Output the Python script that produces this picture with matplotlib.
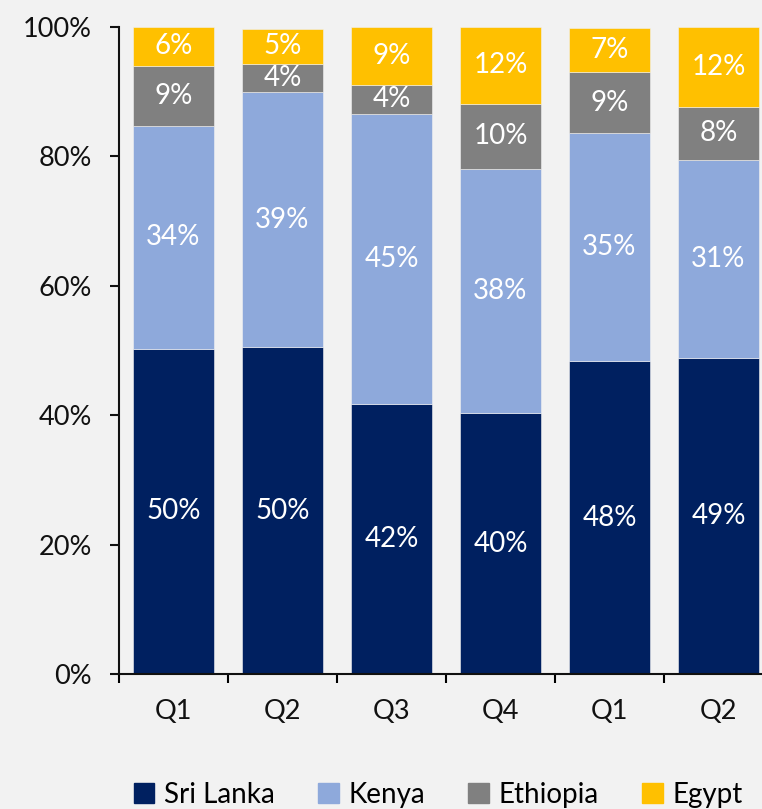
import matplotlib
matplotlib.use("Agg")
import matplotlib.pyplot as plt
import numpy as np
from matplotlib.patches import Rectangle

# Quarterly share by origin (%)
quarters = ["Q1", "Q2", "Q3", "Q4", "Q1", "Q2"]
sri_lanka = [50.3, 50.5, 41.7, 40.3, 48.3, 48.9]
kenya = [34.4, 39.4, 44.9, 37.8, 35.3, 30.6]
ethiopia = [9.3, 4.4, 4.4, 10.0, 9.4, 8.2]
egypt = [6.0, 5.4, 9.0, 11.9, 6.9, 12.3]

series = [
    ("Sri Lanka", sri_lanka, "#002060"),
    ("Kenya", kenya, "#8EA9DB"),
    ("Ethiopia", ethiopia, "#808080"),
    ("Egypt", egypt, "#FFC000"),
]
yticks = [0, 20, 40, 60, 80, 100]

plt.rcParams["font.family"] = ["Lato", "DejaVu Sans"]

fig = plt.figure(figsize=(7.62, 8.09), dpi=100)
fig.patch.set_facecolor("#F2F2F2")
ax = fig.add_axes([119 / 762, 1 - 674 / 809, 654 / 762, 647 / 809])
ax.set_facecolor("none")

x = np.arange(len(quarters))
bottom = np.zeros(len(quarters))
for name, vals, color in series:
    vals = np.array(vals)
    ax.bar(x, vals, 0.75, bottom=bottom, color=color, label=name,
           edgecolor="#F2F2F2", linewidth=0.4, zorder=2)
    for xi, b, v in zip(x, bottom, vals):
        ax.text(xi, b + v / 2, f"{v:.0f}%", ha="center", va="center",
                color="white", fontsize=20, zorder=3)
    bottom += vals

ax.set_xlim(-0.5, len(quarters) - 0.5)
ax.set_ylim(0, 100)
ax.set_yticks(yticks)
ax.set_yticklabels([f"{t}%" for t in yticks], fontsize=19.5)
ax.set_xticks(x)
ax.set_xticklabels(quarters, fontsize=19.5)
ax.set_xticks(np.arange(len(quarters) + 1) - 0.5, minor=True)

ax.tick_params(axis="x", which="major", length=0, pad=18, colors="#111111")
ax.tick_params(axis="x", which="minor", length=6.5, width=1.5, direction="out")
ax.tick_params(axis="y", which="major", length=6.5, width=1.5, pad=13,
               direction="out", colors="#111111")

for side in ("top", "right"):
    ax.spines[side].set_visible(False)
for side in ("left", "bottom"):
    ax.spines[side].set_linewidth(1.5)
    ax.spines[side].set_color("#111111")

handles = [Rectangle((0, 0), 1, 1, color=c) for _, _, c in series]
fig.legend(handles, [n for n, _, _ in series], loc="center",
           bbox_to_anchor=(0.575, 1 - 795 / 809), ncol=4, frameon=False,
           fontsize=20, handlelength=0.75, handleheight=0.75,
           handletextpad=0.35, columnspacing=1.55)

fig.savefig("out.png", dpi=100, facecolor=fig.get_facecolor())
